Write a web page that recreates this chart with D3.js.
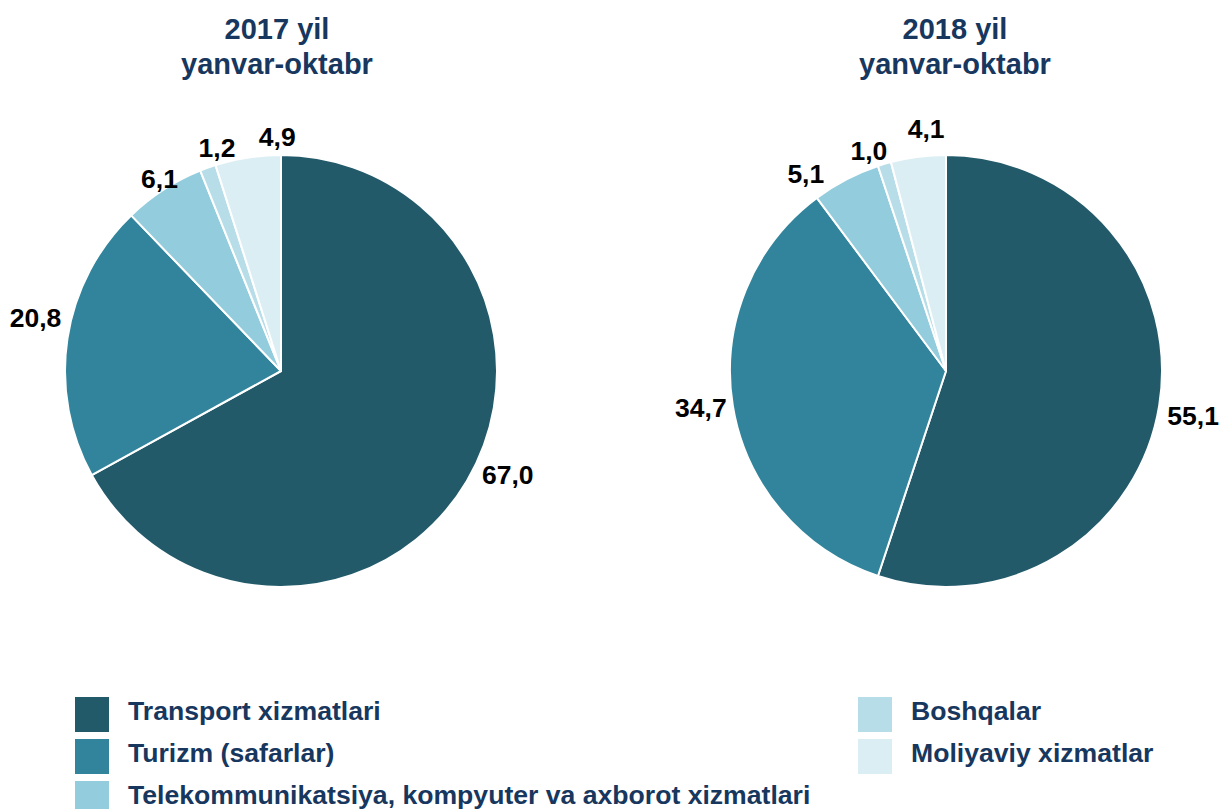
<!DOCTYPE html>
<html><head><meta charset="utf-8">
<script src="https://cdn.jsdelivr.net/npm/d3@7"></script>
<style>body{margin:0;background:#fff}svg{display:block}text{font-family:"Liberation Sans",Arial,sans-serif;font-weight:bold}</style>
</head><body><svg id="c" width="1219" height="809"></svg>
<script>
const categories = ["Transport xizmatlari","Turizm (safarlar)","Telekommunikatsiya, kompyuter va axborot xizmatlari","Boshqalar","Moliyaviy xizmatlar"];
const values2017 = [67.0, 20.8, 6.1, 1.2, 4.9];
const values2018 = [55.1, 34.7, 5.1, 1.0, 4.1];
const titles2017 = ["2017 yil","yanvar-oktabr"];
const titles2018 = ["2018 yil","yanvar-oktabr"];
const colors = ["#225A6A","#31849B","#93CDDD","#B7DEE8","#DBEEF4"];
const fmt = v => v.toFixed(1).replace(".", ",");

// label placement tweaks (angle in degrees, radial px) imitating the original's label layout
const labelNudge2017 = [[-6,-2],[3.6,0],[0.7,-14],[3.8,-6],[7.9,1]];
const labelNudge2018 = [[1,0],[0.6,-3],[-7.8,0],[-2.7,-5],[2.7,8]];

const svg = d3.select("#c");
const R = 216;
const titleColor = "#17375E";
const pies = [
  {cx: 281, cy: 371, tx: 277, values: values2017, title: titles2017, nudge: labelNudge2017},
  {cx: 946, cy: 371, tx: 955, values: values2018, title: titles2018, nudge: labelNudge2018}
];
const pie = d3.pie().sort(null).value(d => d);
const arc = d3.arc().innerRadius(0).outerRadius(R);
const color = d3.scaleOrdinal().domain(d3.range(categories.length)).range(colors);

pies.forEach(p => {
  const g = svg.append("g").attr("transform", `translate(${p.cx},${p.cy})`);
  const arcs = pie(p.values);
  g.selectAll("path").data(arcs).join("path")
    .attr("d", arc).attr("fill", (d,i) => color(i))
    .attr("stroke", "#fff").attr("stroke-width", 2).attr("stroke-linejoin","round");
  const fs = 26.5, cap = fs*0.716, pad = 8;
  g.selectAll("text.lbl").data(arcs).join("text").attr("class","lbl")
    .attr("font-size", fs).attr("fill","#000").attr("text-anchor","middle")
    .text(d => fmt(d.data))
    .each(function(d, i){
      const w = this.getComputedTextLength();
      const a = (d.startAngle + d.endAngle)/2 + p.nudge[i][0]*Math.PI/180;
      const s = Math.sin(a), c = Math.cos(a);
      const rr = R + pad + Math.abs(s)*w/2 + Math.abs(c)*cap/2 + p.nudge[i][1];
      d3.select(this).attr("x", rr*s).attr("y", -rr*c + cap/2);
    });
  const t = svg.append("text").attr("text-anchor","middle")
    .attr("font-size", 29).attr("fill", titleColor);
  p.title.forEach((line, i) => {
    t.append("tspan").attr("x", p.tx).attr("y", 39 + i*35).text(line);
  });
});

const legendCols = [{x: 75, items: [0,1,2]}, {x: 858, items: [3,4]}];
legendCols.forEach(col => {
  col.items.forEach((idx, j) => {
    const y = 697 + j*42;
    svg.append("rect").attr("x", col.x).attr("y", y).attr("width", 34).attr("height", 35).attr("fill", color(idx));
    svg.append("text").attr("x", col.x + 53).attr("y", y + 23).attr("font-size", 26.6)
      .attr("fill", titleColor).text(categories[idx]);
  });
});
</script></body></html>
